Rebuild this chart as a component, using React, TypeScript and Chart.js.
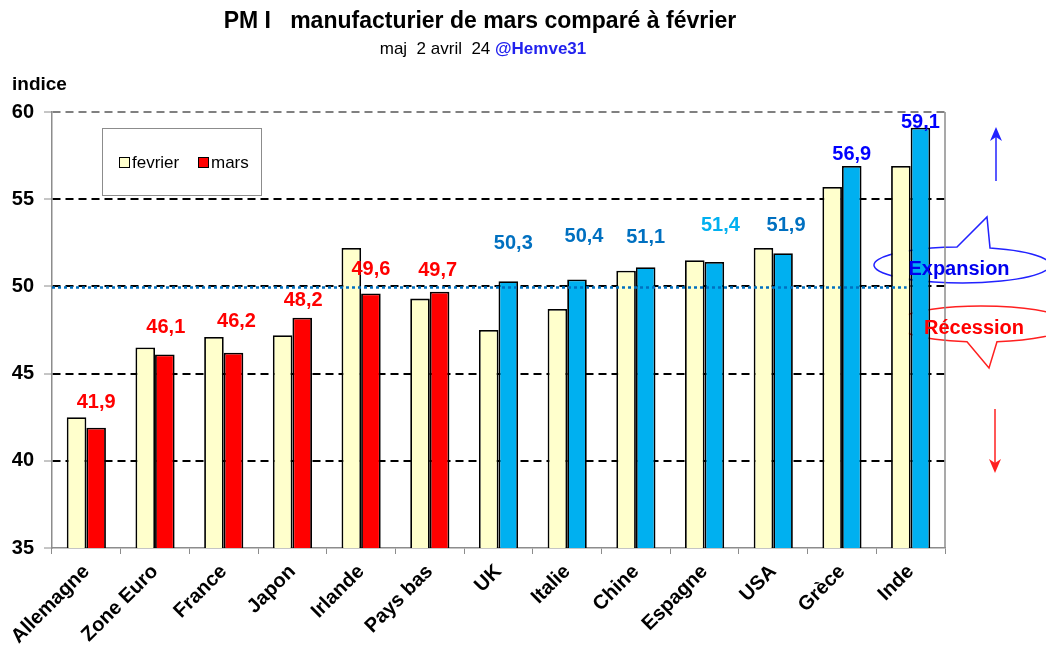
import React, { useEffect, useRef } from 'react';
import { Chart, registerables } from 'chart.js';

Chart.register(...registerables);

// ---------- data ----------
const categories = ['Allemagne', 'Zone Euro', 'France', 'Japon', 'Irlande', 'Pays bas', 'UK', 'Italie', 'Chine', 'Espagne', 'USA', 'Grèce', 'Inde'];
const fevrier = [42.5, 46.5, 47.1, 47.2, 52.2, 49.3, 47.5, 48.7, 50.9, 51.5, 52.2, 55.7, 56.9];
const mars = [41.9, 46.1, 46.2, 48.2, 49.6, 49.7, 50.3, 50.4, 51.1, 51.4, 51.9, 56.9, 59.1];
const seriesNames = ['fevrier', 'mars'];
const yMin = 35;
const yMax = 60;
const yStep = 5;
const THRESHOLD = 50;

const titleText = 'PM I   manufacturier de mars comparé à février';
const subtitleText = 'maj  2 avril  24 ';
const subtitleHandle = '@Hemve31';
const yAxisTitle = 'indice';
const expansionText = 'Expansion';
const recessionText = 'Récession';

// ---------- styles ----------
const FONT = '"Liberation Sans", Arial, Helvetica, sans-serif';
const FEV_COLOR = '#FFFFCC';
const RED = '#FF0000';
const CYAN = '#00B0F0';
const marsColors = mars.map((v) => (v < THRESHOLD ? RED : CYAN));
const labelColors = ['#FF0000', '#FF0000', '#FF0000', '#FF0000', '#FF0000', '#FF0000', '#0070C0', '#0070C0', '#0070C0', '#00B0F0', '#0070C0', '#0000FF', '#0000FF'];
// manual label shifts (px) relative to the top of the "mars" bar, as placed in the original
const labelShift: [number, number][] = [[0, -25], [1, -27], [3, -31], [1, -17], [0, -24], [-2, -21], [5, -38], [7, -43], [0, -30], [6, -36], [3, -28], [0, -12], [0, -5]];

function drawCallout(ctx: CanvasRenderingContext2D, cx: number, cy: number, rx: number, ry: number, b1x: number, b2x: number, tipX: number, tipY: number, up: boolean, color: string) {
  const ang = (x: number) => {
    const u = (x - cx) / rx;
    const v = Math.sqrt(Math.max(0, 1 - u * u)) * (up ? -1 : 1);
    return Math.atan2(v, u);
  };
  ctx.save();
  ctx.strokeStyle = color;
  ctx.lineWidth = 1.5;
  ctx.beginPath();
  if (up) {
    const tR = ang(b2x);
    const tL = ang(b1x);
    ctx.ellipse(cx, cy, rx, ry, 0, tR, tL + Math.PI * 2, false);
  } else {
    const tL = ang(b1x);
    const tR = ang(b2x);
    ctx.ellipse(cx, cy, rx, ry, 0, tL, tR + Math.PI * 2, false);
  }
  ctx.lineTo(tipX, tipY);
  ctx.closePath();
  ctx.stroke();
  ctx.restore();
}

function drawArrow(ctx: CanvasRenderingContext2D, x: number, y1: number, y2: number, color: string) {
  const dir = y2 < y1 ? -1 : 1;
  ctx.save();
  ctx.strokeStyle = color;
  ctx.fillStyle = color;
  ctx.lineWidth = 1.5;
  ctx.beginPath();
  ctx.moveTo(x, y1);
  ctx.lineTo(x, y2 - dir * 10);
  ctx.stroke();
  ctx.beginPath();
  ctx.moveTo(x, y2);
  ctx.lineTo(x - 6, y2 - dir * 14);
  ctx.lineTo(x, y2 - dir * 10);
  ctx.lineTo(x + 6, y2 - dir * 14);
  ctx.closePath();
  ctx.fill();
  ctx.restore();
}

const behindPlugin = {
  id: 'behind',
  beforeDatasetsDraw(chart: any) {
    const ctx: CanvasRenderingContext2D = chart.ctx;
    drawCallout(ctx, 962, 265, 88, 18, 957, 990, 987, 217, true, '#2222FF');
    drawCallout(ctx, 982, 324, 87, 18, 967, 997, 989, 368, false, '#FF2020');
  },
};

const overlayPlugin = {
  id: 'overlay',
  afterDatasetsDraw(chart: any) {
    const ctx: CanvasRenderingContext2D = chart.ctx;
    const { chartArea } = chart;
    const xs = chart.scales.x;
    const ys = chart.scales.y;

    // right frame
    ctx.save();
    ctx.strokeStyle = '#8c8c8c';
    ctx.lineWidth = 1.5;
    ctx.beginPath();
    ctx.moveTo(chartArea.right, chartArea.top);
    ctx.lineTo(chartArea.right, chartArea.bottom);
    ctx.stroke();
    ctx.restore();

    // threshold dotted line
    const yT = ys.getPixelForValue(THRESHOLD);
    const xEnd = xs.getPixelForValue(categories.length - 1) - 4;
    ctx.save();
    ctx.strokeStyle = '#0070C0';
    ctx.lineWidth = 2.5;
    ctx.setLineDash([3, 3]);
    ctx.beginPath();
    ctx.moveTo(chartArea.left, yT + 1);
    ctx.lineTo(xEnd, yT + 1);
    ctx.stroke();
    ctx.restore();

    // data labels for mars
    const meta = chart.getDatasetMeta(1);
    ctx.save();
    ctx.font = `bold 20px ${FONT}`;
    ctx.textAlign = 'center';
    ctx.textBaseline = 'middle';
    meta.data.forEach((bar: any, i: number) => {
      ctx.fillStyle = labelColors[i];
      const [dx, dy] = labelShift[i];
      ctx.fillText(mars[i].toFixed(1).replace('.', ','), bar.x + dx, bar.y + dy);
    });
    ctx.restore();

    // legend
    ctx.save();
    ctx.strokeStyle = '#8c8c8c';
    ctx.lineWidth = 1;
    ctx.fillStyle = '#fff';
    ctx.fillRect(102.5, 128.5, 159, 67);
    ctx.strokeRect(102.5, 128.5, 159, 67);
    const items = [
      { x: 119, color: FEV_COLOR, text: seriesNames[0] },
      { x: 198, color: RED, text: seriesNames[1] },
    ];
    ctx.font = `17px ${FONT}`;
    ctx.textBaseline = 'middle';
    ctx.textAlign = 'left';
    items.forEach((it) => {
      ctx.fillStyle = it.color;
      ctx.fillRect(it.x + 0.5, 157.5, 10, 10);
      ctx.strokeStyle = '#000';
      ctx.strokeRect(it.x + 0.5, 157.5, 10, 10);
      ctx.fillStyle = '#000';
      ctx.fillText(it.text, it.x + 13, 163);
    });
    ctx.restore();

    // callout texts
    ctx.save();
    ctx.font = `bold 20px ${FONT}`;
    ctx.textAlign = 'center';
    ctx.textBaseline = 'middle';
    ctx.fillStyle = '#0000EE';
    ctx.fillText(expansionText, 959, 269);
    ctx.fillStyle = '#FF0000';
    ctx.fillText(recessionText, 974, 328);
    ctx.restore();

    // arrows
    drawArrow(ctx, 996, 181, 127, '#2222FF');
    drawArrow(ctx, 995, 409, 473, '#FF2020');

    // titles
    ctx.save();
    ctx.fillStyle = '#000';
    ctx.textBaseline = 'alphabetic';
    ctx.textAlign = 'center';
    ctx.font = `bold 23px ${FONT}`;
    ctx.fillText(titleText, 480, 28);
    ctx.font = `17px ${FONT}`;
    const w1 = ctx.measureText(subtitleText).width;
    ctx.font = `bold 17px ${FONT}`;
    const w2 = ctx.measureText(subtitleHandle).width;
    const sx = 483 - (w1 + w2) / 2;
    ctx.textAlign = 'left';
    ctx.font = `17px ${FONT}`;
    ctx.fillText(subtitleText, sx, 54);
    ctx.font = `bold 17px ${FONT}`;
    ctx.fillStyle = '#2222EE';
    ctx.fillText(subtitleHandle, sx + w1, 54);
    ctx.fillStyle = '#000';
    ctx.font = `bold 19px ${FONT}`;
    ctx.fillText(yAxisTitle, 12, 90);
    ctx.restore();
  },
};

export default function App() {
  const ref = useRef<HTMLCanvasElement | null>(null);

  useEffect(() => {
    if (!ref.current) return;
    const chart = new Chart(ref.current, {
      type: 'bar',
      data: {
        labels: categories,
        datasets: [
          { label: seriesNames[0], data: fevrier, backgroundColor: FEV_COLOR, borderColor: '#000', borderWidth: 1.8 },
          { label: seriesNames[1], data: mars, backgroundColor: marsColors, borderColor: '#000', borderWidth: 1.8 },
        ],
      },
      options: {
        responsive: false,
        animation: false,
        devicePixelRatio: 1,
        layout: { padding: { top: 112, right: 101, left: 0, bottom: 0 } },
        datasets: { bar: { categoryPercentage: 0.57, barPercentage: 1 } },
        plugins: {
          legend: { display: false },
          title: { display: false },
          tooltip: { enabled: false },
        },
        scales: {
          x: {
            grid: { offset: true, drawOnChartArea: false, drawTicks: true, tickLength: 6, color: '#8c8c8c', lineWidth: 1 },
            border: { color: '#8c8c8c', width: 1.5 },
            ticks: {
              autoSkip: false,
              minRotation: 45,
              maxRotation: 45,
              padding: 6,
              color: '#000',
              font: { family: FONT, size: 20, weight: 'bold' },
            },
            afterFit: (s: any) => { s.height = 97; },
          },
          y: {
            min: yMin,
            max: yMax,
            ticks: {
              stepSize: yStep,
              padding: 10,
              color: '#000',
              font: { family: FONT, size: 20, weight: 'bold' },
            },
            grid: {
              color: (c: any) => (c.tick && c.tick.value === yMin ? 'rgba(0,0,0,0)' : c.tick && c.tick.value === yMax ? '#808080' : '#000'),
              lineWidth: 2,
              tickLength: 8,
              tickColor: '#8c8c8c',
              tickWidth: 1,
            },
            border: { color: '#8c8c8c', width: 1.5, dash: [8, 5] },
            afterFit: (s: any) => { s.width = 52; },
          },
        },
      } as any,
      plugins: [behindPlugin, overlayPlugin],
    });
    return () => chart.destroy();
  }, []);

  return (
    <div style={{ position: 'fixed', left: 0, top: 0, width: 1046, height: 645, background: '#fff' }}>
      <canvas ref={ref} width={1046} height={645} style={{ display: 'block' }} />
    </div>
  );
}
